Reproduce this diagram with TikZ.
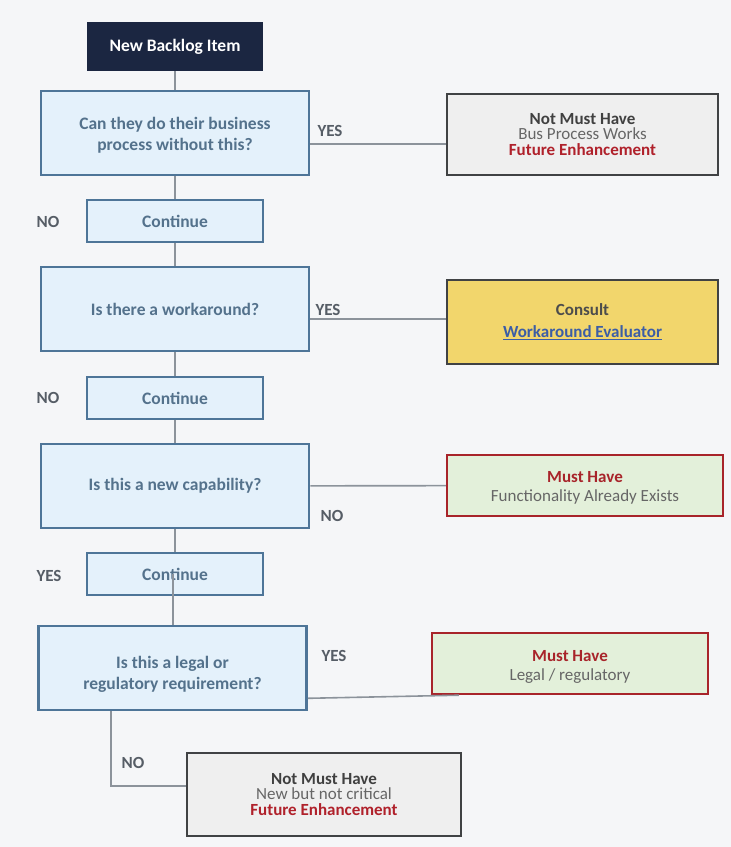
\documentclass[tikz,border=0pt]{standalone}
\usepackage{fontspec}
\setmainfont{Carlito}
\usetikzlibrary{arrows}
\definecolor{pagebg}{HTML}{F5F6F8}
\definecolor{navy}{HTML}{1B2641}
\definecolor{qfill}{HTML}{E4F1FB}
\definecolor{qline}{HTML}{4E7598}
\definecolor{qtext}{HTML}{54728C}
\definecolor{lnk}{HTML}{8C939B}
\definecolor{lbl}{HTML}{565D66}
\definecolor{gfill}{HTML}{EFEFEF}
\definecolor{gline}{HTML}{404244}
\definecolor{yfill}{HTML}{F2D66C}
\definecolor{mfill}{HTML}{E3F0DA}
\definecolor{mline}{HTML}{A8242A}
\definecolor{redtxt}{HTML}{B0212B}
\definecolor{bluetxt}{HTML}{3B5DA6}

\begin{document}
\begin{tikzpicture}[x=1pt,y=-1pt,
  every node/.style={font=\fontsize{17.5}{21}\selectfont\bfseries, inner sep=0pt, align=center},
  start/.style={fill=navy, text=white, minimum width=176pt, minimum height=49pt},
  question/.style={draw=qline, line width=2.6pt, fill=qfill, text=qtext, minimum width=268pt, minimum height=84pt},
  cont/.style={draw=qline, line width=1.8pt, fill=qfill, text=qtext, minimum width=176pt, minimum height=42pt},
  outcome/.style={font=\fontsize{17}{15.5}\selectfont\bfseries},
  notmust/.style={outcome, draw=gline, line width=2.6pt, fill=gfill, text=black!75, minimum width=271pt, minimum height=81pt},
  consult/.style={draw=gline, line width=2.6pt, fill=yfill, text=black!70, minimum width=271pt, minimum height=84pt, font=\fontsize{17}{20}\selectfont\bfseries},
  must/.style={draw=mline, line width=2.4pt, fill=mfill, minimum width=276pt, minimum height=61pt, font=\fontsize{17}{19}\selectfont\bfseries},
  link/.style={draw=lnk, line width=1.6pt},
  answer/.style={text=lbl, font=\fontsize{17}{20}\selectfont\bfseries}]
\fill [pagebg] (0,0) rectangle (731,847);
%\draw [help lines,step=50pt] (0,0) grid (731,847);

\node [start] (new) at (175,46.5) {New Backlog Item};
\node [question] (q1) at (175,133) {\rule{0pt}{16pt}Can they do their business\\process without this?};
\node [cont] (c1) at (175,221) {Continue};
\node [question] (q2) at (175,309) {Is there a workaround?};
\node [cont] (c2) at (175,398) {Continue};
\node [question] (q3) at (175,486) {Is this a new capability?};
\node [cont] (c3) at (175,574) {Continue};
\node [question] (q4) at (172.5,668) {\rule{0pt}{25pt}Is this a legal or\\regulatory requirement?};

\node [notmust] (r1) at (582.5,134.5) {Not Must Have\\{\mdseries\color{black!60}Bus Process Works}\\{\color{redtxt}Future Enhancement}};
\node [consult] (r2) at (582.5,322) {Consult\\[2pt]{\color{bluetxt}\underline{Workaround Evaluator}}};
\node [must] (r3) at (585,485.5) {\rule{0pt}{15pt}{\color{mline}Must Have}\\{\mdseries\color{black!60}Functionality Already Exists}};
\node [must] (r4) at (570,663.5) {\rule{0pt}{17pt}{\color{mline}Must Have}\\{\mdseries\color{black!60}Legal / regulatory}};
\node [notmust,minimum width=274pt,minimum height=83pt] (r5) at (324,794.5) {Not Must Have\\{\mdseries\color{black!60}New but not critical}\\{\color{redtxt}Future Enhancement}};

\draw [link] (new) -- (q1);
\draw [link] (q1) -- (c1);
\draw [link] (c1) -- (q2);
\draw [link] (q2) -- (c2);
\draw [link] (c2) -- (q3);
\draw [link] (q3) -- (c3);
\draw [link] ([xshift=-2pt]c3.center) -- ([xshift=0.5pt]q4.north);

\coordinate (y1) at ([yshift=-11pt]q1.east);
\coordinate (y2) at ([yshift=-10pt]q2.east);
\coordinate (y4) at ([yshift=13pt]q4.south east);
\coordinate (n4) at ([xshift=-61.5pt]q4.south);
\coordinate (n5) at ([yshift=8.5pt]r5.west);
\draw [link] (y1) -- (y1 -| r1.west);
\draw [link] (y2) -- (y2 -| r2.west);
\draw [link] (q3) -- (r3);
\draw [link] (y4) -- ([xshift=28pt]r4.south west);
\draw [link] (n4) -- (n4 |- n5) -- (n5);

\node [answer] (yes1) at (330,131) {YES};
\node [answer] (no1) at (48,222) {NO};
\node [answer] (yes2) at (328,310) {YES};
\node [answer] (no2) at (48,398) {NO};
\node [answer] (no3) at (332,516) {NO};
\node [answer] (yes3) at (49,576) {YES};
\node [answer] (yes4) at (334,656) {YES};
\node [answer] (no4) at (133,763) {NO};
\end{tikzpicture}
\end{document}
